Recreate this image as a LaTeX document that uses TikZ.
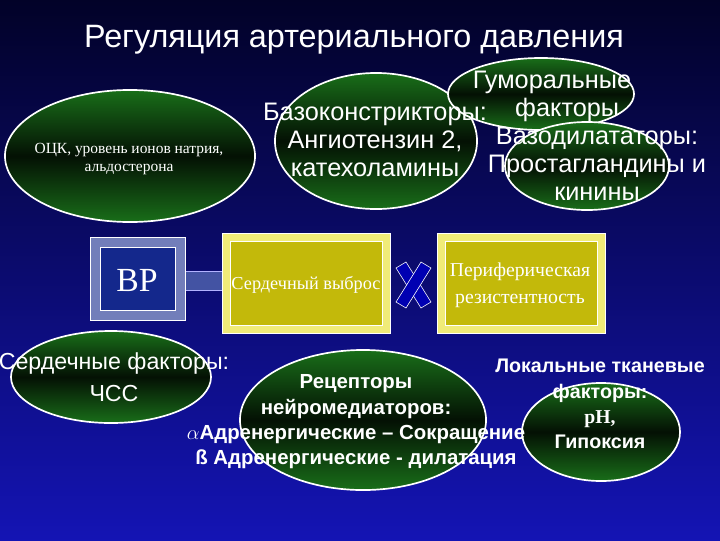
\documentclass[tikz,border=0pt]{standalone}
\usepackage{fontspec}
\setmainfont{Liberation Serif}
\setsansfont{Liberation Sans}
\usetikzlibrary{shapes.geometric}
\definecolor{bgtop}{RGB}{2,2,40}
\definecolor{bgbot}{RGB}{20,20,180}
\definecolor{eg}{RGB}{25,110,25}
\definecolor{yel}{RGB}{195,185,10}
\definecolor{yell}{RGB}{240,235,120}
\definecolor{bpb}{RGB}{20,40,140}
\tikzset{
 ell/.style={ellipse,draw=white,line width=1.2pt,top color=eg,bottom color=eg,middle color=black!85!eg,inner sep=0pt},
 sans/.style={text=white,font=\sffamily,align=center},
 serif/.style={text=white,font=\rmfamily,align=center},
}
\begin{document}
\begin{tikzpicture}[x=0.025cm,y=-0.025cm]
\shade[top color=bgtop,bottom color=bgbot] (0,0) rectangle (720,540);
\useasboundingbox (0,0) rectangle (720,540);
\node[sans,font=\sffamily\fontsize{23}{26}\selectfont] (title) at (354,40) {Регуляция артериального давления};
% ellipses
\node[ell,minimum width=6.25cm,minimum height=3.3cm] (e1) at (130,156) {};
\node[ell,minimum width=5.05cm,minimum height=3.4cm] (e2) at (376,141) {};
\node[ell,minimum width=4.65cm,minimum height=1.8cm] (e3) at (541,94) {};
\node[ell,minimum width=4.1cm,minimum height=2.2cm] (e4) at (587,166) {};
\node[ell,minimum width=5.0cm,minimum height=2.3cm] (e5) at (111,377) {};
\node[ell,minimum width=6.15cm,minimum height=3.5cm] (e6) at (363,420) {};
\node[ell,minimum width=3.95cm,minimum height=2.45cm] (e7) at (601,432) {};
% texts
\node[serif,font=\rmfamily\fontsize{11}{13}\selectfont] (t1) at (129,159) {ОЦК, уровень ионов натрия,\\альдостерона};
\node[sans,font=\sffamily\fontsize{18}{20}\selectfont] (t2) at (375,140) {Базоконстрикторы:\\Ангиотензин 2,\\катехоламины};
\node[sans,font=\sffamily\fontsize{18}{20}\selectfont] (t3) at (552,96) {Гуморальные\\\hspace*{1.2em}факторы};
\node[sans,font=\sffamily\fontsize{18}{20}\selectfont] (t4) at (597,164) {Вазодилататоры:\\Простагландины и\\кинины};
\node[sans,font=\sffamily\fontsize{16.5}{23}\selectfont] (t5) at (114,377) {Сердечные факторы:\\ЧСС};
\node[sans,font=\sffamily\bfseries\fontsize{14.5}{18}\selectfont] (t6) at (356,422) {Рецепторы\\нейромедиаторов:\\$\alpha$Адренергические – Сокращение\\ß Адренергические - дилатация};
\node[sans,font=\sffamily\bfseries\fontsize{14}{18}\selectfont] (t7) at (600,404) {Локальные тканевые\\факторы:\\{\rmfamily pH,}\\Гипоксия};
% connector bar
\fill[bpb!80!white] (185,271) rectangle (222,290);
\draw[white!70!blue] (185,271) rectangle (222,290);
% BP box
\fill[bpb!60!white] (90,237) rectangle (185,320);
\fill[bpb] (100,247) rectangle (175,310);
\draw[white,thin] (90,237) rectangle (185,320) (100,247) rectangle (175,310);
\node[serif,font=\rmfamily\fontsize{24}{26}\selectfont] (bp) at (137,280) {BP};
% yellow boxes
\foreach \xa in {222,437}{
 \fill[yell] (\xa,233) rectangle ++(168,100);
 \fill[yel] (\xa+8,241) rectangle ++(152,84);
 \draw[white,thin] (\xa,233) rectangle ++(168,100) (\xa+8,241) rectangle ++(152,84);
}
\node[font=\rmfamily\fontsize{13}{15}\selectfont,text=white,align=center] (b1t) at (306,285) {Сердечный выброс};
\node[font=\rmfamily\fontsize{14}{19}\selectfont,text=white,align=center] (b2t) at (520,285) {Периферическая\\резистентность};
% X
\filldraw[fill=blue!70!black,draw=white,thin] (396,268) -- (406,262) -- (431,302) -- (421,308) -- cycle;
\filldraw[fill=blue!70!black,draw=white,thin] (421,262) -- (431,268) -- (406,308) -- (396,302) -- cycle;
\end{tikzpicture}
\end{document}
